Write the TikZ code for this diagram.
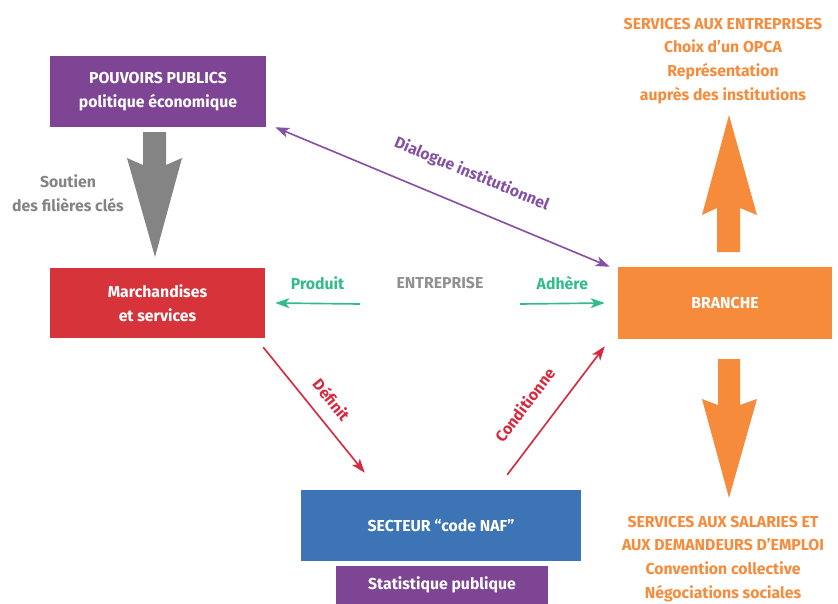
\documentclass[tikz,border=0pt]{standalone}
\usepackage{fontspec}
\setmainfont{Fira Sans}
\usetikzlibrary{arrows.meta,positioning}

\definecolor{ppurple}{HTML}{7E4594}
\definecolor{pred}{HTML}{D7333B}
\definecolor{porange}{HTML}{F68B3B}
\definecolor{pblue}{HTML}{3C74B5}
\definecolor{pgray}{HTML}{848484}
\definecolor{pgreen}{HTML}{33BB8C}
\definecolor{lineviolet}{HTML}{8551A3}
\definecolor{linered}{HTML}{D62A3E}

\tikzset{
  box/.style={text=white, align=center, inner sep=0pt},
  lbl/.style={inner sep=0pt, align=center},
  tip/.tip={Stealth[length=12pt, width=8.5pt, inset=3pt]},
  thin arrow/.style={line width=1.4pt, -tip},
}

\begin{document}
\begin{tikzpicture}[x=0.03cm, y=-0.03cm, font=\bfseries\fontsize{13.5}{20.4}\selectfont]
\useasboundingbox (0,0) rectangle (838,603);

% boxes
\node[box, fill=ppurple, minimum width=6.48cm, minimum height=2.13cm] (pp) at (158,91.5) {POUVOIRS PUBLICS\\politique économique};
\node[box, fill=pred, minimum width=6.45cm, minimum height=2.1cm] (mk) at (157.5,303) {Marchandises\\et services};
\node[box, fill=porange, minimum width=6.42cm, minimum height=2.16cm] (br) at (725,303) {BRANCHE};
\node[box, fill=pblue, minimum width=8.4cm, minimum height=2.13cm] (sec) at (441,525.5) {SECTEUR “code NAF”};
\node[box, fill=ppurple, minimum width=6.36cm, minimum height=1.14cm] (stat) at (442,585) {Statistique publique};

% big arrows
\fill[pgray] (143,132) -- (166,132) -- (166,165) -- (182,158) -- (155,257) -- (127,158) -- (143,165) -- cycle;
\fill[porange] (717,252) -- (717,208) -- (702,215) -- (729,115) -- (757,215) -- (740,208) -- (740,252) -- cycle;
\fill[porange] (718,359) -- (740,359) -- (740,405) -- (757,399) -- (729,498) -- (702,399) -- (718,405) -- cycle;

% free texts
\node[lbl, text=pgray] (soutien) at (68,193) {Soutien\\des filières clés};
\node[lbl, text=porange] (srvent) at (723,61) {SERVICES AUX ENTREPRISES\\Choix d’un OPCA\\Représentation\\auprès des institutions};
\node[lbl, text=porange] (srvsal) at (723,559) {SERVICES AUX SALARIES ET\\AUX DEMANDEURS D’EMPLOI\\Convention collective\\Négociations sociales};
\node[lbl, text=pgray!90] (ent) at (440,283) {ENTREPRISE};

% thin arrows
\coordinate (entl) at (360,304);
\coordinate (entr) at (520,304);
\draw[thin arrow, pgreen] (entl) -- ([xshift=0.3cm]mk.east)
  node[lbl, midway, above=11pt] {Produit};
\draw[thin arrow, pgreen] (entr) -- ([xshift=-0.39cm]br.west)
  node[lbl, midway, above=11pt] {Adhère};
\draw[thin arrow, tip-tip, lineviolet]
  ([xshift=0.27cm]pp.south east) -- ([xshift=-0.24cm]br.north west)
  node[lbl, pos=0.55, sloped, above=20pt] {Dialogue institutionnel};
\draw[thin arrow, linered] ([shift={(-2,9)}]mk.south east) -- ([shift={(64,-17)}]sec.north west)
  node[lbl, pos=0.52, sloped, above=11pt] {Définit};
\draw[thin arrow, linered] ([shift={(-74,-15)}]sec.north east) -- ([shift={(-13,7)}]br.south west)
  node[lbl, pos=0.41, sloped, above=18pt] {Conditionne};
\end{tikzpicture}
\end{document}
